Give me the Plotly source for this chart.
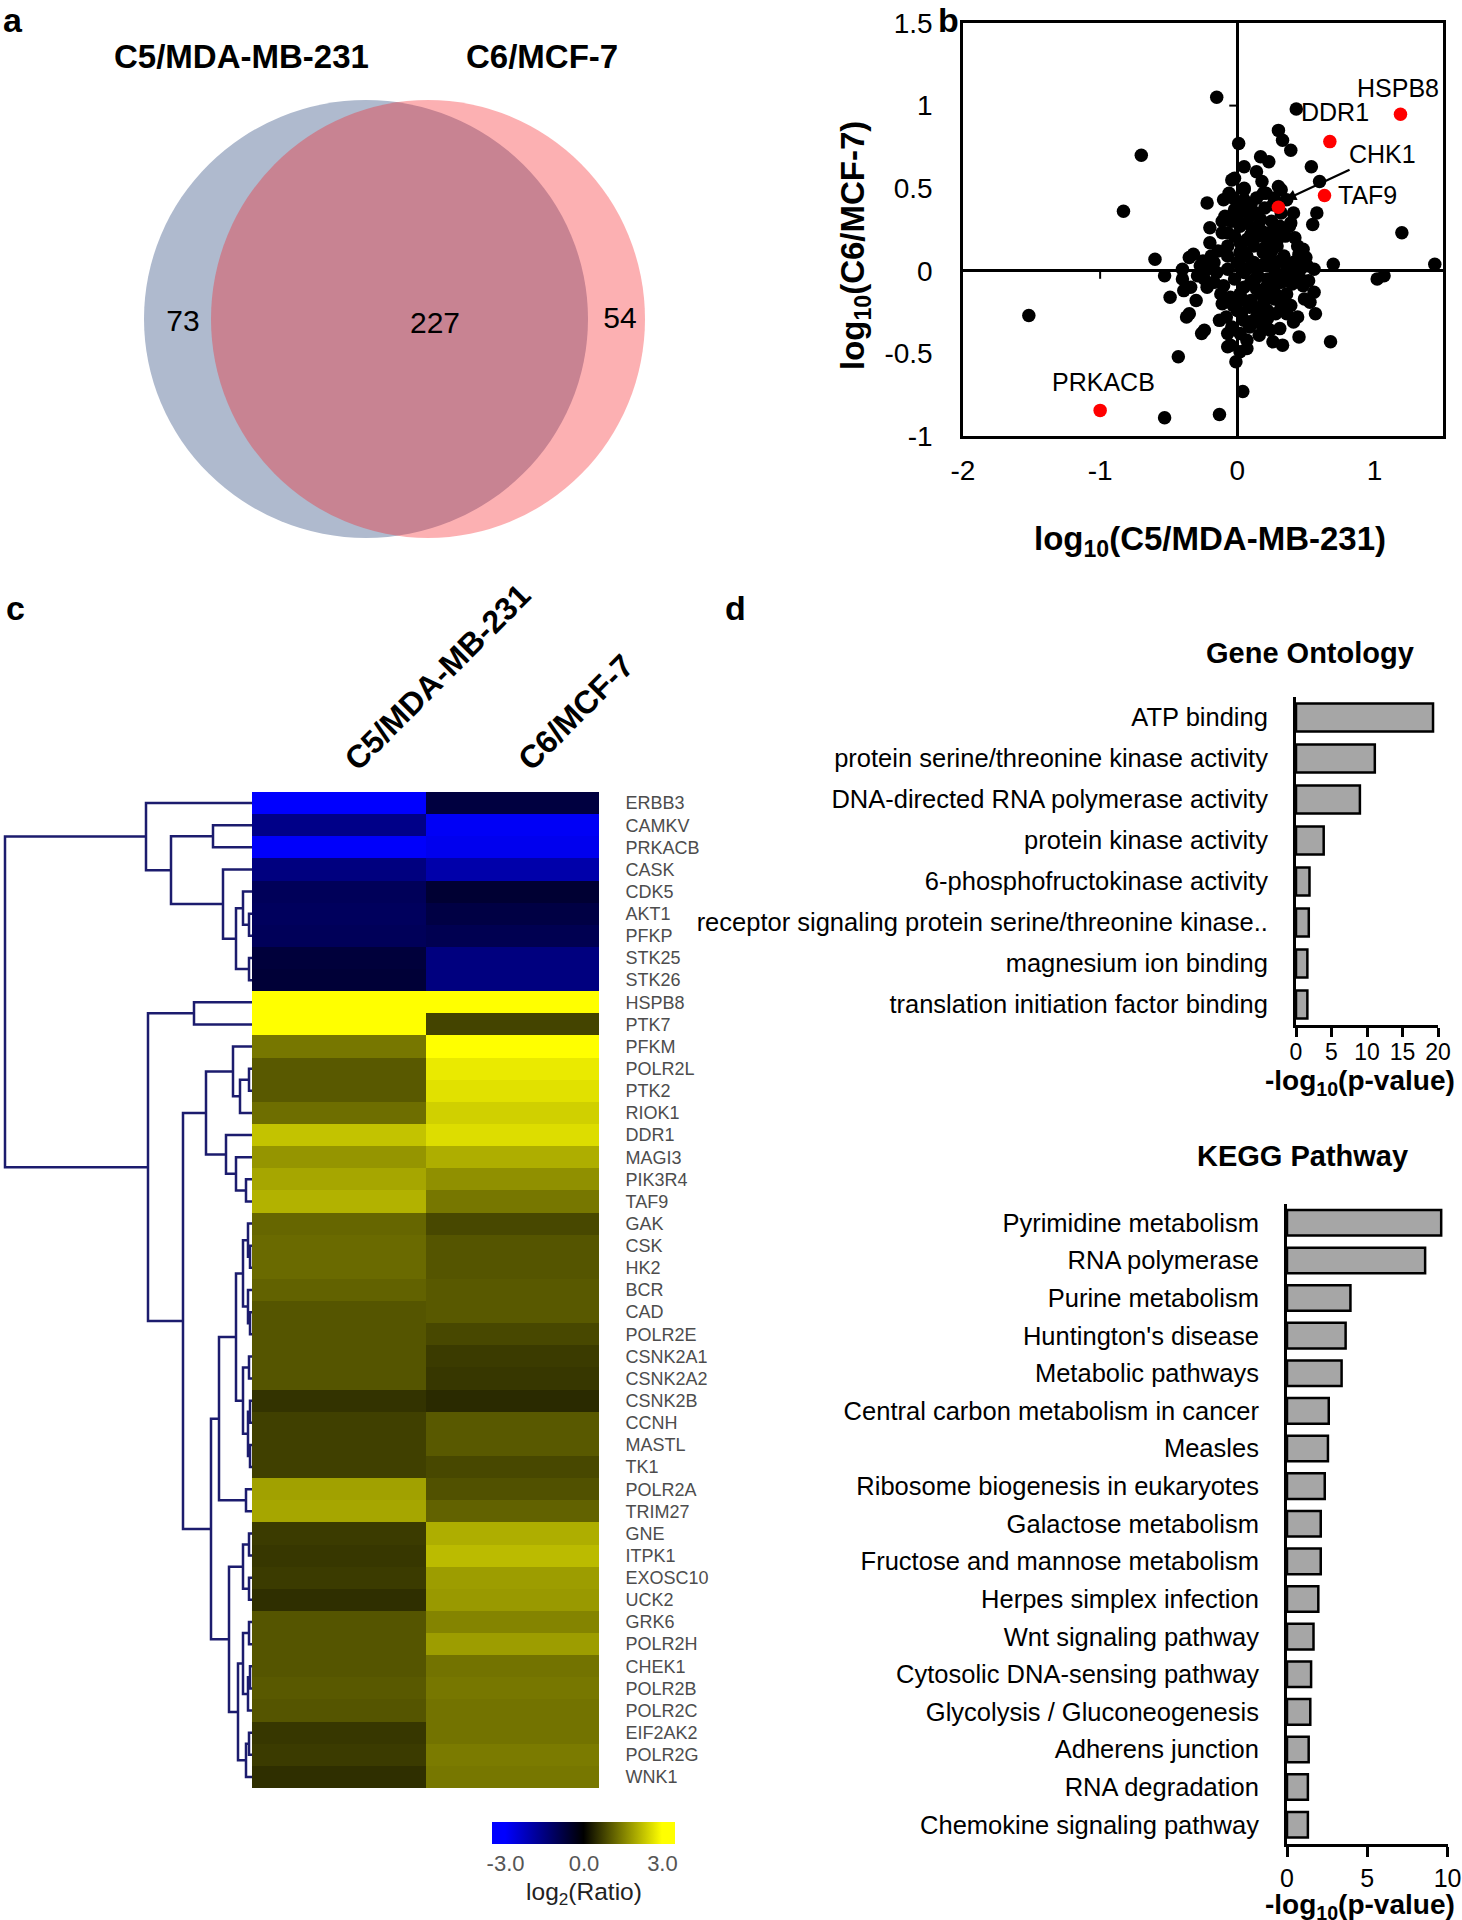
import plotly.graph_objects as go

W, H = 1462, 1920
FONT = "Liberation Sans, Arial, sans-serif"


def px(x):
    return x / W


def py(y):
    return 1 - y / H


# ---- panel a: venn ----
venn_sets = ["C5/MDA-MB-231", "C6/MCF-7"]
venn_counts = [73, 227, 54]  # only C5, both, only C6

# ---- panel b: log10 ratios ----
log_c5 = [-0.15, 0.43, 0.30, 0.33, 0.39, 0.01, -0.70, 0.17, 0.23, 0.54, 0.60, -0.83, -0.02, 0.05,
          -0.06, 0.18, 0.30, 0.19, -0.22, 0.58, 0.55, 1.20, -0.20, -0.11, 0.39, 0.35, 0.44, -0.60,
          -0.32, -0.35, -0.19, 0.70, 1.44, 1.02, 1.07, -0.53, -0.40, -0.39, -0.49, -0.30, -0.35,
          -0.37, -0.24, -0.26, -0.13, -0.04, -0.05, -0.07, 0.02, 0.07, -0.01, -0.43, 0.16, 0.26,
          0.33, 0.45, 0.41, 0.36, 0.36, 0.32, 0.27, 0.56, 0.53, 0.68, 0.04, -0.53, -0.13, 0.15,
          0.22, 0.10, 0.05, -1.52,
          -0.04, 0.05, 0.00, 0.07, -0.07, 0.15, 0.27, 0.22, 0.12, 0.02, 0.07, 0.17, 0.27, 0.36,
          0.32, 0.24, 0.17, 0.10, 0.02, -0.05, -0.11, 0.00, 0.05, 0.12, 0.02, -0.07, 0.07, 0.27,
          0.13, 0.17, 0.07, 0.02, -0.02, -0.07, 0.07, 0.15, 0.24, 0.29, 0.24, 0.12, 0.02, -0.07,
          -0.15, -0.22, -0.27, -0.29, -0.17, -0.10, -0.02, 0.05, 0.15, 0.22, 0.29, 0.39, 0.46,
          0.51, 0.56, 0.41, 0.34, 0.19, 0.02, -0.07, -0.17, 0.32, 0.36, 0.32, 0.41, 0.38, 0.05,
          -0.10, -0.02, -0.11, 0.22, 0.28, 0.12, 0.10, 0.20, 0.26, 0.10, 0.20, 0.30, 0.45, 0.50,
          -0.04, 0.09, 0.19, -0.08, 0.31, 0.46, -0.22, -0.25, 0.40, 0.48,
          0.00, 0.04, 0.09, 0.13, 0.20, 0.25, 0.31, 0.35, 0.43, 0.05, 0.14, 0.21, 0.28, 0.33,
          0.11, 0.18, 0.25, 0.31, 0.09, 0.03, 0.14, 0.21, 0.27, -0.03, -0.09, -0.14, -0.20,
          -0.24, -0.12, -0.03, 0.03, 0.09, 0.18, 0.24, 0.39, 0.44, 0.49, 0.52, 0.48, 0.42,
          -0.40, -0.34, 0.57, 0.05, 0.14]
log_c6 = [1.05, 0.98, 0.85, 0.79, 0.73, 0.77, 0.70, 0.69, 0.66, 0.63, 0.54, 0.36, 0.56, 0.50,
          0.47, 0.54, 0.51, 0.47, 0.41, 0.35, 0.28, 0.23, 0.26, 0.30, 0.29, 0.21, 0.15, 0.07,
          0.10, 0.08, 0.09, 0.04, 0.04, -0.05, -0.03, -0.03, 0.01, -0.12, -0.16, -0.18, -0.26,
          -0.28, -0.36, -0.38, -0.30, -0.34, -0.45, -0.46, -0.49, -0.47, -0.55, -0.52, -0.39, -0.43,
          -0.45, -0.40, -0.31, -0.26, -0.14, -0.22, -0.17, -0.13, -0.19, -0.43, -0.73, -0.89, -0.87,
          -0.26, -0.29, -0.18, -0.10, -0.27,
          0.55, 0.43, 0.33, 0.29, 0.23, 0.27, 0.27, 0.19, 0.15, 0.17, 0.09, 0.03, 0.01, 0.03,
          -0.07, -0.14, -0.14, -0.07, -0.14, -0.16, -0.20, -0.24, -0.30, -0.30, -0.38, -0.38, -0.42,
          -0.09, 0.35, 0.31, 0.37, 0.27, 0.21, 0.15, 0.19, 0.21, 0.23, 0.15, 0.07, 0.05, 0.03,
          0.01, -0.01, 0.01, 0.03, -0.03, -0.07, -0.09, -0.05, -0.01, -0.03, -0.05, -0.03, -0.01,
          0.01, 0.03, 0.01, 0.05, 0.09, 0.11, 0.11, 0.09, 0.05, 0.49, 0.43, 0.35, 0.35, 0.27, 0.49,
          0.43, 0.37, 0.23, -0.24, -0.26, -0.22, 0.40, 0.38, 0.40, 0.22, 0.14, 0.20, 0.10, 0.08,
          0.30, -0.22, -0.20, -0.28, -0.35, -0.05, -0.10, 0.06, -0.08, -0.09,
          0.05, 0.12, 0.02, -0.05, 0.04, 0.12, 0.06, -0.04, 0.06, -0.18, -0.11, -0.10, -0.14, -0.18,
          0.26, 0.24, 0.30, 0.27, 0.33, 0.38, 0.44, 0.47, 0.44, 0.44, 0.33, 0.12, 0.17,
          -0.05, -0.14, -0.21, -0.26, -0.34, -0.33, -0.36, -0.21, -0.28, -0.17, -0.06, 0.13, 0.20,
          -0.05, -0.10, -0.26, 0.63, 0.60]
hl_genes = ["HSPB8", "DDR1", "TAF9", "CHK1", "PRKACB"]
hl_c5 = [1.19, 0.675, 0.636, 0.30, -1.0]
hl_c6 = [0.948, 0.782, 0.456, 0.385, -0.845]

# ---- panel c: heatmap, log2 ratios ----
genes = ["ERBB3", "CAMKV", "PRKACB", "CASK", "CDK5", "AKT1", "PFKP", "STK25", "STK26",
         "HSPB8", "PTK7", "PFKM", "POLR2L", "PTK2", "RIOK1", "DDR1", "MAGI3", "PIK3R4", "TAF9",
         "GAK", "CSK", "HK2", "BCR", "CAD", "POLR2E", "CSNK2A1", "CSNK2A2", "CSNK2B", "CCNH",
         "MASTL", "TK1", "POLR2A", "TRIM27", "GNE", "ITPK1", "EXOSC10", "UCK2", "GRK6",
         "POLR2H", "CHEK1", "POLR2B", "POLR2C", "EIF2AK2", "POLR2G", "WNK1"]
ratio_c5 = [-3.0, -1.6, -2.95, -1.5, -1.05, -1.1, -1.05, -0.7, -0.65,
            3.0, 3.0, 1.4, 1.05, 1.05, 1.3, 2.3, 1.75, 1.95, 2.1,
            1.2, 1.25, 1.25, 1.15, 1.0, 1.0, 1.0, 1.0, 0.6, 0.75,
            0.75, 0.75, 1.9, 1.95, 0.7, 0.65, 0.7, 0.55, 1.0,
            1.0, 1.0, 1.05, 1.0, 0.65, 0.7, 0.55]
ratio_c6 = [-0.75, -2.9, -2.8, -2.0, -0.6, -0.8, -0.95, -1.5, -1.5,
            3.0, 0.8, 3.0, 2.75, 2.65, 2.45, 2.6, 2.05, 1.7, 1.4,
            0.85, 1.0, 1.0, 1.05, 1.05, 0.85, 0.7, 0.65, 0.5, 1.05,
            1.05, 0.85, 0.95, 1.15, 2.05, 2.2, 1.85, 1.8, 1.55,
            1.85, 1.35, 1.4, 1.35, 1.35, 1.45, 1.4]

# hierarchical clustering tree: (left, right, merge distance)
blue_tree = ("ERBB3",
             (("CAMKV", "PRKACB", 39),
              ("CASK", (("CDK5", ("AKT1", "PFKP", 3), 9), ("STK25", "STK26", 3), 16), 29), 81),
             106)
upper_yellow = (("PFKM", (("POLR2L", "PTK2", 3), "RIOK1", 12), 19),
                ("DDR1", ("MAGI3", ("PIK3R4", "TAF9", 6), 16), 26), 46)
mid_yellow = (((("GAK", ("CSK", "HK2", 2), 4), ("BCR", ("CAD", "POLR2E", 2), 4), 9),
               (("CSNK2A1", "CSNK2A2", 3), (("CSNK2B", "CCNH", 2), ("MASTL", "TK1", 2), 4), 9), 16),
              ("POLR2A", "TRIM27", 6), 33)
low_yellow = ((("GNE", "ITPK1", 3), ("EXOSC10", "UCK2", 3), 9),
              ((("GRK6", "POLR2H", 3), (("CHEK1", "POLR2B", 2), "POLR2C", 4), 9),
               (("EIF2AK2", "POLR2G", 3), "WNK1", 6), 14), 23)
yellow_tree = (("HSPB8", "PTK7", 58), (upper_yellow, (mid_yellow, low_yellow, 41), 69), 104)
gene_tree = (blue_tree, yellow_tree, 247)

# ---- panel d: enrichment ----
go_terms = ["ATP binding", "protein serine/threonine kinase activity",
            "DNA-directed RNA polymerase activity", "protein kinase activity",
            "6-phosphofructokinase activity",
            "receptor signaling protein serine/threonine kinase..",
            "magnesium ion binding", "translation initiation factor binding"]
go_values = [19.3, 11.1, 9.0, 3.9, 1.9, 1.8, 1.6, 1.6]
kegg_terms = ["Pyrimidine metabolism", "RNA polymerase", "Purine metabolism",
              "Huntington's disease", "Metabolic pathways", "Central carbon metabolism in cancer",
              "Measles", "Ribosome biogenesis in eukaryotes", "Galactose metabolism",
              "Fructose and mannose metabolism", "Herpes simplex infection",
              "Wnt signaling pathway", "Cytosolic DNA-sensing pathway",
              "Glycolysis / Gluconeogenesis", "Adherens junction", "RNA degradation",
              "Chemokine signaling pathway"]
kegg_values = [9.6, 8.6, 3.95, 3.65, 3.4, 2.6, 2.55, 2.35, 2.1, 2.1, 1.95, 1.65, 1.5, 1.45,
               1.35, 1.3, 1.3]


row_of = {g: i for i, g in enumerate(genes)}


def walk(node, xs, ys):
    if isinstance(node, str):
        return row_of[node], 0.0
    left, right, h = node
    y1, h1 = walk(left, xs, ys)
    y2, h2 = walk(right, xs, ys)
    xs += [h1, h, h, h2, None]
    ys += [y1, y1, y2, y2, None]
    return (y1 + y2) / 2, h


dend_x, dend_y = [], []
walk(gene_tree, dend_x, dend_y)

fig = go.Figure()

# venn numbers
fig.add_trace(go.Scatter(
    x=[183, 435, 620], y=[323, 325, 320], text=[str(c) for c in venn_counts],
    mode="text", textfont=dict(size=30, color="black", family=FONT),
    xaxis="x", yaxis="y", hoverinfo="skip"))

# scatter
fig.add_trace(go.Scatter(x=log_c5, y=log_c6, mode="markers",
                         marker=dict(color="black", size=13.5),
                         xaxis="x2", yaxis="y2"))
fig.add_trace(go.Scatter(x=hl_c5, y=hl_c6, mode="markers", text=hl_genes,
                         marker=dict(color="#ff0000", size=13.5),
                         xaxis="x2", yaxis="y2"))

# heatmap
fig.add_trace(go.Heatmap(
    z=[[a, b] for a, b in zip(ratio_c5, ratio_c6)], x=[0, 1], y=list(range(len(genes))),
    xaxis="x3", yaxis="y3", zmin=-3.5, zmax=3.5,
    colorscale=[[0, "rgb(0,0,255)"], [0.0714, "rgb(0,0,255)"], [0.5, "rgb(0,0,0)"],
                [0.9286, "rgb(255,255,0)"], [1, "rgb(255,255,0)"]],
    colorbar=dict(orientation="h", x=px(584), xanchor="center", y=py(1822), yanchor="top",
                  len=183, lenmode="pixels", thickness=22, thicknessmode="pixels",
                  xpad=0, ypad=0, outlinewidth=0, ticks="", tickvals=[-3, 0, 3],
                  ticktext=["-3.0", "0.0", "3.0"],
                  tickfont=dict(size=22, color="#555555", family=FONT),
                  title=dict(text="log<sub>2</sub>(Ratio)", side="bottom",
                             font=dict(size=24.5, color="#222222", family=FONT)))))

# dendrogram
fig.add_trace(go.Scatter(x=dend_x, y=dend_y, mode="lines",
                         line=dict(color="#1c1c6e", width=2.5),
                         xaxis="x4", yaxis="y3", hoverinfo="skip"))

bar_style = dict(color="#a6a6a6", line=dict(color="black", width=2.5))
fig.add_trace(go.Bar(x=go_values, y=go_terms, orientation="h", width=0.68,
                     marker=bar_style, xaxis="x5", yaxis="y5"))
fig.add_trace(go.Bar(x=kegg_values, y=kegg_terms, orientation="h", width=0.68,
                     marker=bar_style, xaxis="x6", yaxis="y6"))

hidden = dict(visible=False, showgrid=False, zeroline=False)
clear_ticks = dict(ticks="outside", tickcolor="rgba(0,0,0,0)", showgrid=False)

fig.update_layout(
    width=W, height=H, margin=dict(l=0, r=0, t=0, b=0, autoexpand=False),
    paper_bgcolor="white", plot_bgcolor="white", showlegend=False,
    font=dict(family=FONT, color="black"),
    xaxis=dict(domain=[0, px(700)], range=[0, 700], **hidden),
    yaxis=dict(domain=[py(600), 1], range=[600, 0], **hidden),
    xaxis2=dict(domain=[px(963), px(1443)], range=[-2, 1.5], anchor="y2",
                tickvals=[-2, -1, 0, 1], ticktext=["-2", "-1", "0", "1"], ticklen=8,
                tickfont=dict(size=28),
                showline=True, mirror=True, linewidth=2.5, linecolor="black",
                zeroline=True, zerolinewidth=2.5, zerolinecolor="black", **clear_ticks),
    yaxis2=dict(domain=[py(436), py(23)], range=[-1, 1.5], anchor="x2",
                tickvals=[-1, -0.5, 0, 0.5, 1, 1.5],
                ticktext=["-1", "-0.5", "0", "0.5", "1", "1.5"], ticklen=22,
                tickfont=dict(size=28),
                showline=True, mirror=True, linewidth=2.5, linecolor="black",
                zeroline=True, zerolinewidth=2.5, zerolinecolor="black", **clear_ticks),
    xaxis3=dict(domain=[px(252), px(599)], range=[-0.5, 1.5], anchor="y3", **hidden),
    yaxis3=dict(domain=[py(1788), py(792)], range=[len(genes) - 0.5, -0.5], anchor="x3",
                side="right", tickvals=list(range(len(genes))), ticktext=genes, ticklen=22,
                tickfont=dict(size=18, color="#4d4d4d"), zeroline=False, **clear_ticks),
    xaxis4=dict(domain=[0, px(252)], range=[252, 0], anchor="y3", **hidden),
    xaxis5=dict(domain=[px(1296), px(1438)], range=[0, 20], anchor="y5",
                tickvals=[0, 5, 10, 15, 20], ticks="outside", ticklen=9, tickwidth=2.5,
                tickcolor="black", tickfont=dict(size=23), ticklabelstandoff=-5,
                showline=True, linewidth=3,
                linecolor="black", showgrid=False, zeroline=False),
    yaxis5=dict(domain=[py(1025), py(697)], anchor="x5", autorange="reversed",
                ticklen=20, tickfont=dict(size=25.5), showline=True, linewidth=3,
                linecolor="black", zeroline=False, **clear_ticks),
    xaxis6=dict(domain=[px(1287), px(1447.6)], range=[0, 10], anchor="y6",
                tickvals=[0, 5, 10], ticks="outside", ticklen=10, tickwidth=2.5,
                tickcolor="black", tickfont=dict(size=25), showline=True, linewidth=3,
                linecolor="black", showgrid=False, zeroline=False),
    yaxis6=dict(domain=[py(1843.5), py(1204)], anchor="x6", autorange="reversed",
                ticklen=20, tickfont=dict(size=25.5), showline=True, linewidth=3,
                linecolor="black", zeroline=False, **clear_ticks),
)

# venn ellipses
fig.add_shape(type="circle", xref="x", yref="y", x0=144, x1=588, y0=100, y1=538,
              fillcolor="rgb(175,186,206)", line=dict(width=0), layer="below")
fig.add_shape(type="circle", xref="x", yref="y", x0=211, x1=645, y0=100, y1=538,
              fillcolor="rgba(245,30,35,0.35)", line=dict(width=0), layer="below")

# small ticks on the crossing axes in panel b
fig.add_shape(type="line", xref="x2", yref="y2", x0=-1, x1=-1, ysizemode="pixel",
              yanchor=0, y0=0, y1=-8, line=dict(color="black", width=2))
fig.add_shape(type="line", xref="x2", yref="y2", y0=1, y1=1, xsizemode="pixel",
              xanchor=0, x0=0, x1=-8, line=dict(color="black", width=2))

ann = []


def label(text, x, y, size, bold=False, **kw):
    t = f"<b>{text}</b>" if bold else text
    ann.append(dict(text=t, x=px(x), y=py(y), xref="paper", yref="paper", showarrow=False,
                    xanchor="center", yanchor="middle",
                    font=dict(size=size, color="black", family=FONT), **kw))


for letter, lx, ly in [("a", 13, 20), ("b", 948, 20), ("c", 15, 608), ("d", 735, 608)]:
    label(letter, lx, ly, 34, bold=True)

label(venn_sets[0], 241, 57, 33, bold=True)
label(venn_sets[1], 542, 57, 33, bold=True)
label("log<sub>10</sub>(C5/MDA-MB-231)", 1210, 541, 33, bold=True)
label("log<sub>10</sub>(C6/MCF-7)", 855, 246, 33, bold=True, textangle=-90)
label("Gene Ontology", 1310, 653, 29, bold=True)
label("KEGG Pathway", 1302, 1156, 29, bold=True)
label("-log<sub>10</sub>(p-value)", 1360, 1082, 28, bold=True)
label("-log<sub>10</sub>(p-value)", 1360, 1906, 28, bold=True)

# heatmap column headers
for i, name in enumerate(venn_sets):
    ann.append(dict(text=f"<b>{name}</b>", x=i, y=py(780), xref="x3", yref="paper",
                    xanchor="left", yanchor="bottom", xshift=-4, textangle=-45,
                    showarrow=False, font=dict(size=32, color="black", family=FONT)))

# scatter gene labels
label_pos = {"HSPB8": (1.175, 1.106), "DDR1": (0.716, 0.96), "TAF9": (0.949, 0.458),
             "PRKACB": (-0.976, -0.671)}
for g, (gx, gy) in label_pos.items():
    ann.append(dict(text=g, x=gx, y=gy, xref="x2", yref="y2", showarrow=False,
                    xanchor="center", yanchor="middle",
                    font=dict(size=25, color="black", family=FONT)))
k = hl_genes.index("CHK1")
ann.append(dict(text="CHK1", x=hl_c5[k] + 0.05, y=hl_c6[k] + 0.045, xref="x2", yref="y2",
                ax=1.06, ay=0.706, axref="x2", ayref="y2", showarrow=True, arrowhead=2,
                arrowsize=1, arrowwidth=2.2, arrowcolor="black", standoff=0,
                font=dict(size=25, color="black", family=FONT)))

fig.update_layout(annotations=ann)
fig.write_html("out.html", config={"displayModeBar": False},
               post_script="document.body.style.margin='0px';")
